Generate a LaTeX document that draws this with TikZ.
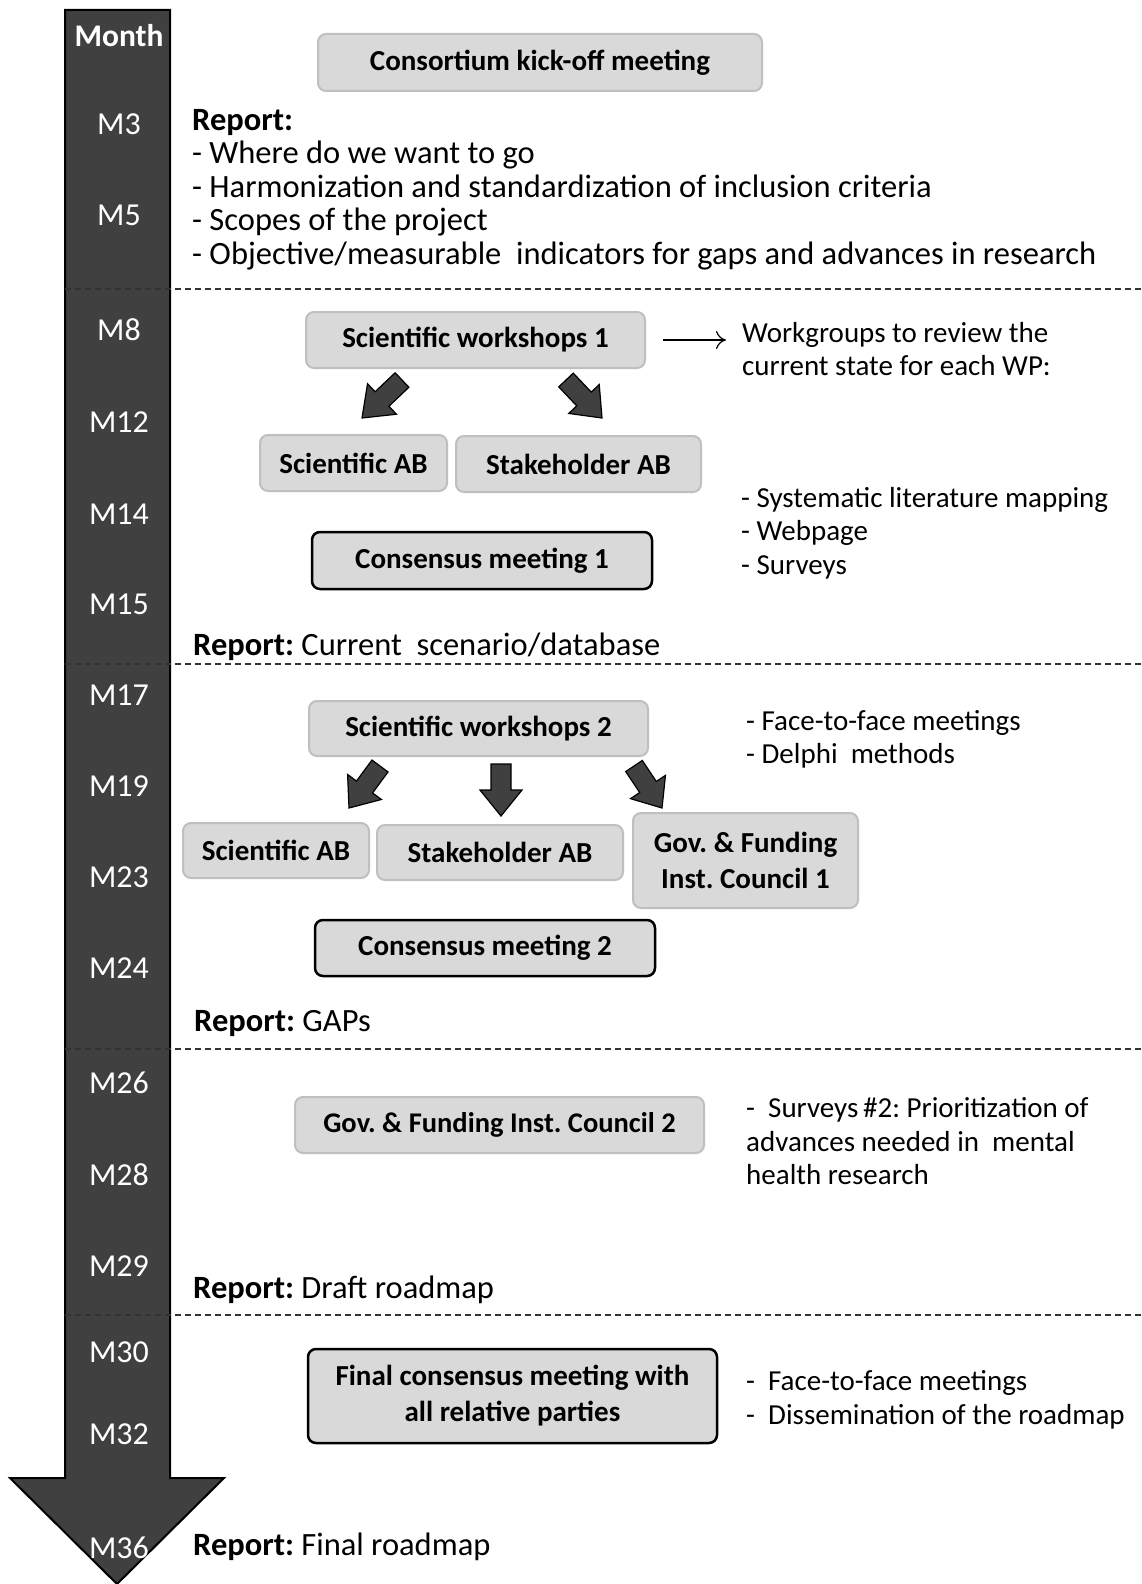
\documentclass[tikz,border=0pt]{standalone}
\usepackage{fontspec}
\setmainfont{Carlito}
\frenchspacing
\usetikzlibrary{positioning,calc,arrows.meta}

\definecolor{boxfill}{HTML}{D9D9D9}
\definecolor{boxline}{HTML}{BFBFBF}
\definecolor{darkfill}{HTML}{404040}

\tikzset{
    box/.style={draw=boxline, line width=2pt, fill=boxfill, rounded corners=8pt, align=center, inner sep=0pt,
        font=\fontsize{29}{36}\selectfont\bfseries},
    keybox/.style={box, draw=black, line width=2.5pt},
    note/.style={anchor=west, align=left, inner sep=0pt, font=\fontsize{29}{33.5}\selectfont},
    report/.style={anchor=west, align=left, inner sep=0pt, font=\fontsize{32.5}{33.5}\selectfont},
    month/.style={text=white, inner sep=0pt, font=\fontsize{32}{34}\selectfont},
    fat/.style={draw=black, line width=1.2pt, fill=darkfill, line join=miter},
    sep/.style={draw=black!80, line width=1.2pt, dash pattern=on 6pt off 4pt},
}

\newcommand{\blockarrow}[2]{%
    \coordinate (ba) at ($(#1)!0.5!(#2)$);
    \draw[fat] ($(#1)!10pt!-90:(#2)$) -- ($(ba)!10pt!90:(#1)$) -- ($(ba)!21pt!90:(#1)$) -- (#2)
        -- ($(ba)!21pt!-90:(#1)$) -- ($(ba)!10pt!-90:(#1)$) -- ($(#1)!10pt!90:(#2)$) -- cycle;
}

\begin{document}
\begin{tikzpicture}[x=1pt, y=-1pt]
    \fill[white] (0,0) rectangle (1141,1584);
    \useasboundingbox (0,0) rectangle (1141,1584);

    \draw[fat, line width=2pt] (65,10) -- (170,10) -- (170,1478) -- (224,1478) -- (117,1584)
        -- (10,1478) -- (65,1478) -- cycle;
    \node[month, font=\fontsize{31.5}{34}\selectfont\bfseries] (month) at (119,36) {Month};
    \foreach \m/\y in {M3/124, M5/215, M8/330, M12/422, M14/514, M15/604, M17/695, M19/786,
        M23/877, M24/968, M26/1083, M28/1175, M29/1266, M30/1352, M32/1434, M36/1548}
        \node[month] (\m) at (119,\y) {\m};

    \foreach \y in {289, 664, 1049, 1315}
        \draw[sep] (65,\y) -- (1141,\y);

    \node[box, minimum width=444, minimum height=57] (kick) at (540,62.5) {Consortium kick-off meeting};
    \node[report] (rep1) at (192,189.5) {\textbf{Report:}\\- Where do we want to go\\- Harmonization and standardization of inclusion criteria\\- Scopes of the project\\- Objective/measurable\ \ indicators for gaps and advances in research};

    \node[box, minimum width=339, minimum height=56] (sw1) at (475.5,340) {Scientific workshops 1};
    \node[box, minimum width=187, minimum height=56] (sab1) at (353.5,463) {Scientific AB};
    \node[box, minimum width=245, minimum height=56] (stab1) at (578.5,464) {Stakeholder AB};
    \node[keybox, minimum width=340, minimum height=57] (cm1) at (482,560.5) {Consensus meeting 1};
    \node[note] (wg) at (742,349) {Workgroups to review the\\current state for each WP:};
    \node[note] (lit) at (741,533) {- Systematic literature mapping\\- Webpage\\- Surveys};
    \node[report] (rep2) at (193,647) {\textbf{Report:} Current\ \ scenario/database};
    \draw[-{To[length=10pt, width=18pt]}, line width=1.2pt, shorten <=17pt, shorten >=16pt] (sw1.east) -- (sw1.east -| wg.west);
    \coordinate (a1s) at (402,380);
    \coordinate (a1t) at (362,418);
    \coordinate (a2s) at (566,380);
    \coordinate (a2t) at (602,418);
    \blockarrow{a1s}{a1t}
    \blockarrow{a2s}{a2t}

    \node[box, minimum width=339, minimum height=55] (sw2) at (478.5,728.5) {Scientific workshops 2};
    \node[box, minimum width=186, minimum height=55] (sab2) at (276,850.5) {Scientific AB};
    \node[box, minimum width=246, minimum height=55] (stab2) at (500,852.5) {Stakeholder AB};
    \node[box, minimum width=225, minimum height=95] (gov1) at (745.5,860.5) {Gov. \& Funding\\Inst. Council 1};
    \node[keybox, minimum width=340, minimum height=56] (cm2) at (485,948) {Consensus meeting 2};
    \node[note] (f2f) at (746,739.5) {- Face-to-face meetings\\- Delphi\ \ methods};
    \node[report] (rep3) at (194,1023) {\textbf{Report:} GAPs};
    \coordinate (b1s) at (380,766);
    \coordinate (b1t) at (349,808);
    \coordinate (b2s) at (501,764);
    \coordinate (b2t) at (501,816);
    \coordinate (b3s) at (634,766);
    \coordinate (b3t) at (662,808);
    \blockarrow{b1s}{b1t}
    \blockarrow{b2s}{b2t}
    \blockarrow{b3s}{b3t}

    \node[box, minimum width=409, minimum height=56, font=\fontsize{28.5}{36}\selectfont\bfseries] (gov2) at (499.5,1125) {Gov. \& Funding Inst. Council 2};
    \node[note] (srv) at (746,1141.5) {-\ \ Surveys\,\#2: Prioritization of\\advances needed in\ \ mental\\health research};
    \node[report] (rep4) at (193,1290) {\textbf{Report:} Draft roadmap};

    \node[keybox, minimum width=409, minimum height=94] (final) at (512.5,1396) {Final consensus meeting with\\all relative parties};
    \node[note] (diss) at (746,1400) {-\ \ Face-to-face meetings\\-\ \ Dissemination of the roadmap};
    \node[report] (rep5) at (193,1546.5) {\textbf{Report:} Final roadmap};
\end{tikzpicture}
\end{document}
